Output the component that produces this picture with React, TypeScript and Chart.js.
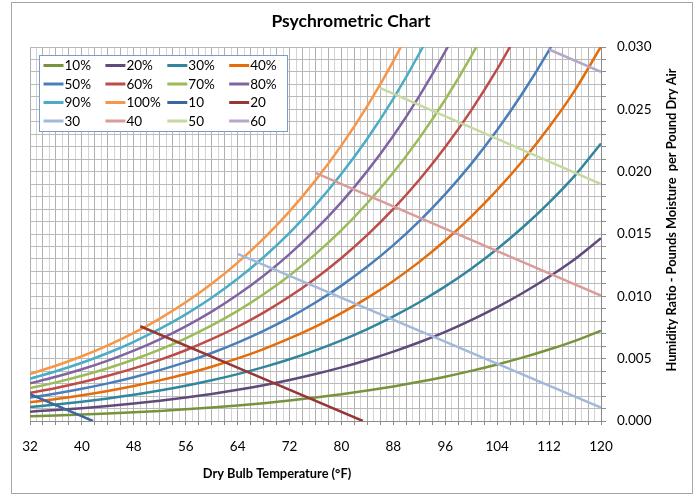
import React, { useEffect, useRef } from 'react';
import { Chart, registerables } from 'chart.js';

Chart.register(...registerables);

// ---------- data ----------
const temps = [32, 36, 40, 44, 48, 52, 56, 60, 64, 68, 72, 76, 80, 84, 88, 92, 96, 100, 104, 108, 112, 116, 120];

const rh10 = [0.000375, 0.000441, 0.000516, 0.000602, 0.0007, 0.000812, 0.000939, 0.001084, 0.001248, 0.001433, 0.001642, 0.001878, 0.002142, 0.002439, 0.002772, 0.003143, 0.003557, 0.004019, 0.004532, 0.005101, 0.005732, 0.006431, 0.007248];
const rh20 = [0.000751, 0.000882, 0.001032, 0.001204, 0.001401, 0.001625, 0.001881, 0.002171, 0.0025, 0.002872, 0.003293, 0.003767, 0.004299, 0.004898, 0.005568, 0.006318, 0.007155, 0.00809, 0.00913, 0.010287, 0.011571, 0.012996, 0.014666];
const rh30 = [0.001128, 0.001324, 0.001549, 0.001808, 0.002104, 0.002441, 0.002826, 0.003262, 0.003758, 0.004319, 0.004952, 0.005667, 0.006471, 0.007375, 0.008389, 0.009525, 0.010795, 0.012214, 0.013796, 0.015558, 0.017519, 0.019699, 0.022262];
const rh40 = [0.001504, 0.001766, 0.002068, 0.002413, 0.002808, 0.003259, 0.003773, 0.004357, 0.00502, 0.005771, 0.006621, 0.007579, 0.008659, 0.009873, 0.011236, 0.012765, 0.014477, 0.016393, 0.018532, 0.020919, 0.023581, 0.026546, 0.030042];
const rh50 = [0.001882, 0.00221, 0.002587, 0.003019, 0.003515, 0.00408, 0.004724, 0.005456, 0.006288, 0.007231, 0.008298, 0.009503, 0.010861, 0.01239, 0.014109, 0.016039, 0.018203, 0.020627, 0.023339, 0.02637, 0.029758, 0.03354];
const rh60 = [0.002259, 0.002653, 0.003107, 0.003627, 0.004222, 0.004902, 0.005677, 0.006559, 0.007561, 0.008698, 0.009984, 0.011438, 0.013079, 0.014928, 0.017008, 0.019347, 0.021972, 0.024917, 0.028218, 0.031915];
const rh70 = [0.002638, 0.003098, 0.003628, 0.004235, 0.004931, 0.005726, 0.006633, 0.007666, 0.008839, 0.010171, 0.011679, 0.013385, 0.015312, 0.017486, 0.019934, 0.022689, 0.025786, 0.029265, 0.033172];
const rh80 = [0.003016, 0.003543, 0.004149, 0.004845, 0.005642, 0.006553, 0.007593, 0.008776, 0.010122, 0.011651, 0.013384, 0.015345, 0.017562, 0.020064, 0.022886, 0.026066, 0.029645, 0.033672];
const rh90 = [0.003395, 0.003989, 0.004672, 0.005456, 0.006355, 0.007382, 0.008555, 0.009891, 0.011411, 0.013138, 0.015097, 0.017317, 0.019827, 0.022663, 0.025866, 0.029479, 0.033551];
const rh100 = [0.003775, 0.004435, 0.005195, 0.006068, 0.007069, 0.008213, 0.00952, 0.011009, 0.012705, 0.014632, 0.01682, 0.0193, 0.022108, 0.025284, 0.028873, 0.032928];

// enthalpy lines (Btu/lb) : end-point temperatures and humidity ratios
const h10T = [32, 41.7];
const h10W = [0.00216, 0];
const h20T = [49, 83.3];
const h20W = [0.0076, 0];
const h30T = [64, 120];
const h30W = [0.0134, 0.00108];
const h40T = [76, 120];
const h40W = [0.0199, 0.01005];
const h50T = [86, 120];
const h50W = [0.0267, 0.019];
const h60T = [112, 120];
const h60W = [0.0298, 0.028];

const seriesLabels = ['10%', '20%', '30%', '40%', '50%', '60%', '70%', '80%', '90%', '100%', '10', '20', '30', '40', '50', '60'];
const seriesColors = ['#77933C', '#604A7B', '#31859C', '#E46C0A', '#4A7EBB', '#BE4B48', '#9BBB59', '#8064A2', '#4BACC6', '#F79646', '#3A679E', '#953735', '#A3B9DA', '#DA9C9A', '#C6D9A1', '#B6A6CA'];

const xTitle = 'Dry Bulb Temperature (°F)';
const yTitle = 'Humidity Ratio - Pounds Moisture  per Pound Dry Air';
const chartTitle = 'Psychrometric Chart';

const FONT = 'Lato, "Open Sans", sans-serif';

const overlayPlugin = {
  id: 'overlay',
  afterDraw(chart: any) {
    const ctx = chart.ctx;
    const a = chart.chartArea;
    ctx.save();
    ctx.fillStyle = '#000';
    ctx.textAlign = 'center';
    ctx.textBaseline = 'middle';
    ctx.font = `bold 17.5px ${FONT}`;
    ctx.fillText(chartTitle, 351, 21);
    ctx.font = `bold 12.8px ${FONT}`;
    ctx.fillText(xTitle, 277, 474);
    ctx.save();
    ctx.translate(672, 220);
    ctx.rotate(-Math.PI / 2);
    ctx.fillText(yTitle, 0, 0);
    ctx.restore();

    // legend
    const bx = a.left + 9.5;
    const by = a.top + 8.5;
    const bw = 248;
    const bh = 76;
    ctx.fillStyle = '#ffffff';
    ctx.fillRect(bx, by, bw, bh);
    ctx.strokeStyle = '#7A9CCB';
    ctx.lineWidth = 1;
    ctx.strokeRect(bx, by, bw, bh);
    ctx.font = `13.5px ${FONT}`;
    ctx.textAlign = 'left';
    chart.data.datasets.forEach((ds: any, i: number) => {
      const r = Math.floor(i / 4);
      const c = i % 4;
      const x = bx + 4 + c * 61.9;
      const y = by + 10 + r * 18.5;
      ctx.strokeStyle = ds.borderColor;
      ctx.lineWidth = 3;
      ctx.beginPath();
      ctx.moveTo(x, y);
      ctx.lineTo(x + 20, y);
      ctx.stroke();
      ctx.fillStyle = '#000';
      ctx.fillText(ds.label, x + 21, y + 0.5);
    });
    ctx.restore();
  },
};

export default function App() {
  const canvasRef = useRef<HTMLCanvasElement | null>(null);

  useEffect(() => {
    if (!canvasRef.current) return;
    const rhSeries = [rh10, rh20, rh30, rh40, rh50, rh60, rh70, rh80, rh90, rh100];
    const hSeries = [
      [h10T, h10W],
      [h20T, h20W],
      [h30T, h30W],
      [h40T, h40W],
      [h50T, h50W],
      [h60T, h60W],
    ];
    const datasets: any[] = [];
    rhSeries.forEach((s, i) => {
      datasets.push({
        label: seriesLabels[i],
        data: s.map((w, j) => ({ x: temps[j], y: w })),
      });
    });
    hSeries.forEach(([tt, ww], k) => {
      datasets.push({
        label: seriesLabels[10 + k],
        data: tt.map((t, j) => ({ x: t, y: ww[j] })),
      });
    });
    datasets.forEach((d, i) => {
      d.borderColor = seriesColors[i];
      d.backgroundColor = seriesColors[i];
      d.borderWidth = 2.5;
      d.pointRadius = 0;
      d.fill = false;
      d.cubicInterpolationMode = 'monotone';
      d.order = -i;
    });

    const chart = new Chart(canvasRef.current, {
      type: 'line',
      data: { datasets },
      options: {
        animation: false,
        responsive: false,
        maintainAspectRatio: false,
        layout: { padding: { top: 47, left: 30, right: 0, bottom: 0 } },
        plugins: {
          legend: { display: false },
          tooltip: { enabled: false },
          title: { display: false },
        },
        scales: {
          x: {
            type: 'linear',
            min: 32,
            max: 120,
            afterFit: (scale: any) => {
              scale.height = 74;
            },
            ticks: {
              stepSize: 1,
              autoSkip: false,
              maxRotation: 0,
              padding: 14,
              color: '#000',
              font: { family: FONT, size: 13.5 },
              callback: (v: any) => (Number(v) % 8 === 0 ? String(v) : ''),
            },
            grid: {
              color: (c: any) => (c.tick && c.tick.value % 2 === 0 ? '#B0B0B0' : '#D3D3D3'),
              tickColor: (c: any) => (c.tick && c.tick.value % 2 === 0 ? '#8C8C8C' : 'rgba(0,0,0,0)'),
              tickLength: 4,
              lineWidth: 1,
            },
            border: { display: true, color: '#8C8C8C', width: 1 },
          },
          y: {
            type: 'linear',
            position: 'right',
            min: 0,
            max: 0.03,
            afterFit: (scale: any) => {
              scale.width = 95;
            },
            ticks: {
              stepSize: 0.001,
              autoSkip: false,
              padding: 11,
              color: '#000',
              font: { family: FONT, size: 13.5 },
              callback: (v: any) => {
                const m = Math.round(Number(v) * 1000);
                return m % 5 === 0 ? (m / 1000).toFixed(3) : '';
              },
            },
            grid: {
              color: '#BABABA',
              tickColor: '#8C8C8C',
              tickLength: 5,
              lineWidth: 1,
            },
            border: { display: true, color: '#8C8C8C', width: 1 },
          },
        },
      },
      plugins: [overlayPlugin],
    } as any);
    return () => chart.destroy();
  }, []);

  return (
    <div style={{ position: 'fixed', left: 0, top: 0, width: 696, height: 495, background: '#fff' }}>
      <div
        style={{
          position: 'absolute',
          left: 11,
          top: 2,
          width: 682,
          height: 492,
          border: '1px solid #A6A6A6',
          boxSizing: 'border-box',
          pointerEvents: 'none',
        }}
      />
      <canvas ref={canvasRef} width={696} height={495} style={{ position: 'absolute', left: 0, top: 0, width: 696, height: 495 }} />
    </div>
  );
}
